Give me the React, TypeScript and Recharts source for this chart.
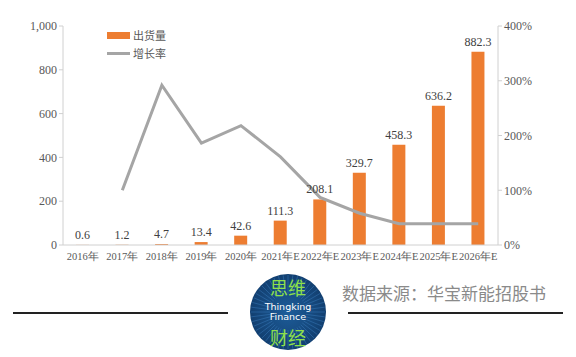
import React from 'react';
import { ComposedChart, Bar, Line, XAxis, YAxis, LabelList, Legend } from 'recharts';

const years = ['2016年', '2017年', '2018年', '2019年', '2020年', '2021年E', '2022年E', '2023年E', '2024年E', '2025年E', '2026年E'];
const shipments = [0.6, 1.2, 4.7, 13.4, 42.6, 111.3, 208.1, 329.7, 458.3, 636.2, 882.3];
const growth = [null, 100, 292, 186, 218, 161, 87, 58, 39, 39, 39];
const leftTicks = [0, 200, 400, 600, 800, 1000];
const rightTicks = [0, 100, 200, 300, 400];

const data = years.map((year, i) => ({ year, shipments: shipments[i], growth: growth[i] }));

const FONT = 'Liberation Serif, DejaVu Serif, serif';
const CJK = '"Noto Sans CJK SC", sans-serif';
const ORANGE = '#ED7D31';
const GRAY = '#A5A5A5';

const renderLegend = () => (
  <div style={{ fontFamily: CJK, fontSize: 11, color: '#595959', lineHeight: '18px' }}>
    <div style={{ display: 'flex', alignItems: 'center' }}>
      <span style={{ display: 'inline-block', width: 23, height: 7, background: ORANGE, marginRight: 3 }} />
      出货量
    </div>
    <div style={{ display: 'flex', alignItems: 'center' }}>
      <span style={{ display: 'inline-block', width: 23, height: 3, background: GRAY, marginRight: 3 }} />
      增长率
    </div>
  </div>
);

// decorative badge at the bottom
const Logo = () => {
  const rays = Array.from({ length: 48 }, (_, i) => (i * Math.PI * 2) / 48);
  return (
    <svg width={80} height={84} style={{ position: 'absolute', left: 248, top: 271 }}>
      <defs>
        <radialGradient id="lg" cx="50%" cy="50%" r="50%">
          <stop offset="0%" stopColor="#1d5d9a" />
          <stop offset="100%" stopColor="#123f70" />
        </radialGradient>
      </defs>
      <circle cx={40} cy={41} r={38} fill="url(#lg)" />
      {rays.map((a, i) => (
        <line key={i} x1={40 + Math.cos(a) * 18} y1={41 + Math.sin(a) * 18} x2={40 + Math.cos(a) * 37} y2={41 + Math.sin(a) * 37}
          stroke="#3c7fbf" strokeOpacity={0.45} strokeWidth={1} />
      ))}
      <text x={40} y={24} textAnchor="middle" fill="#8fe04a" fontSize={18} fontFamily={CJK}>思维</text>
      <text x={40} y={39} textAnchor="middle" fill="#ffffff" fontSize={9.5} fontFamily="DejaVu Sans, sans-serif">Thingking</text>
      <text x={40} y={49} textAnchor="middle" fill="#ffffff" fontSize={9.5} fontFamily="DejaVu Sans, sans-serif">Finance</text>
      <text x={40} y={74} textAnchor="middle" fill="#8fe04a" fontSize={18} fontFamily={CJK}>财经</text>
    </svg>
  );
};

export default function App() {
  return (
    <div style={{ position: 'absolute', left: 0, top: 0, width: 576, height: 357, background: '#fff', overflow: 'hidden' }}>
      <ComposedChart width={576} height={272} data={data} margin={{ top: 26, right: 28, left: 0, bottom: 0 }}>
        <XAxis
          dataKey="year"
          height={27}
          interval={0}
          tick={{ fill: '#595959', fontSize: 10.5, fontFamily: FONT }}
          tickLine={false}
          axisLine={{ stroke: '#D0D0D0' }}
        />
        <YAxis
          yAxisId="left"
          width={63}
          domain={[0, 1000]}
          ticks={leftTicks}
          tickFormatter={(v: number) => v.toLocaleString('en-US')}
          tick={{ fill: '#595959', fontSize: 12, fontFamily: FONT }}
          tickLine={{ stroke: '#D0D0D0' }}
          tickSize={4}
          axisLine={{ stroke: '#D0D0D0' }}
        />
        <YAxis
          yAxisId="right"
          orientation="right"
          width={50}
          domain={[0, 400]}
          ticks={rightTicks}
          tickFormatter={(v: number) => `${v}%`}
          tick={{ fill: '#595959', fontSize: 12, fontFamily: FONT }}
          tickLine={{ stroke: '#D0D0D0' }}
          tickSize={4}
          axisLine={{ stroke: '#D0D0D0' }}
        />
        <Legend
          content={renderLegend}
          layout="horizontal"
          verticalAlign="middle"
          align="center"
          wrapperStyle={{ top: 26, left: 107, width: 80 }}
        />
        <Bar yAxisId="left" dataKey="shipments" fill={ORANGE} barSize={13} isAnimationActive={false}>
          <LabelList dataKey="shipments" position="top" offset={6} fill="#404040" fontSize={12} fontFamily={FONT} />
        </Bar>
        <Line
          yAxisId="right"
          dataKey="growth"
          stroke={GRAY}
          strokeWidth={3}
          dot={false}
          activeDot={false}
          connectNulls={false}
          isAnimationActive={false}
        />
      </ComposedChart>
      <div style={{ position: 'absolute', left: 13, top: 312, width: 215, height: 1.5, background: '#222' }} />
      <div style={{ position: 'absolute', left: 348, top: 312, width: 215, height: 1.5, background: '#222' }} />
      <Logo />
      <div style={{ position: 'absolute', left: 342, top: 282, fontSize: 17, color: '#8a8a8a', fontFamily: CJK, whiteSpace: 'nowrap', lineHeight: '22px' }}>
        数据来源：华宝新能招股书
      </div>
    </div>
  );
}
